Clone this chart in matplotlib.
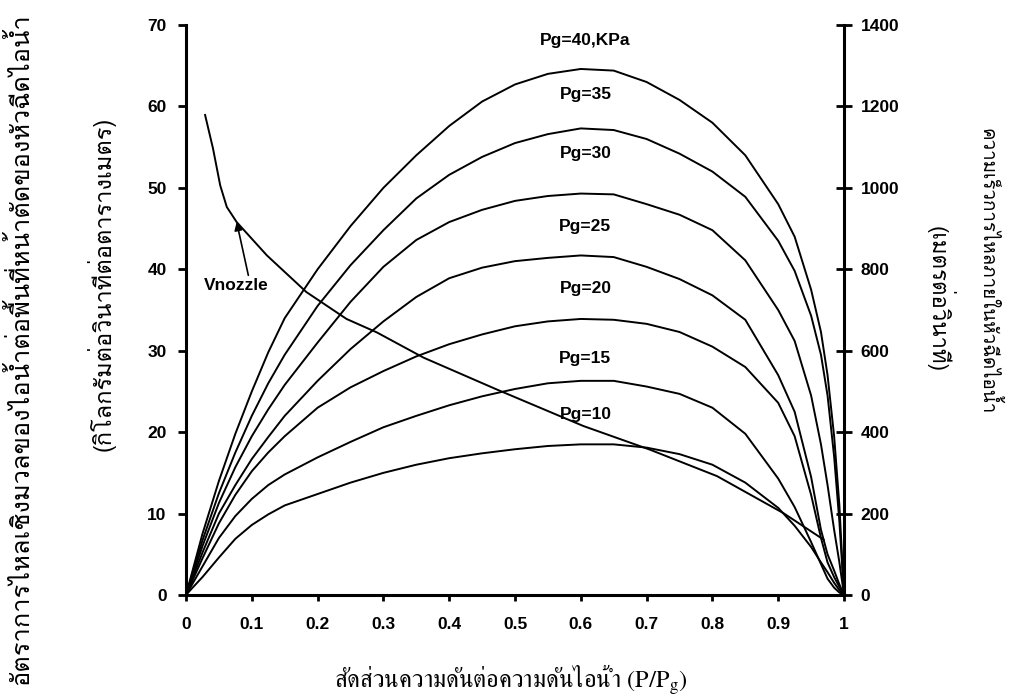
import matplotlib
matplotlib.use("Agg")
import matplotlib.pyplot as plt

plt.rcParams['font.family'] = ['Liberation Sans', 'DejaVu Sans']
plt.rcParams['mathtext.default'] = 'regular'

# pressure ratio P/Pg where the curves were read
x_ratio = [0, 0.01, 0.025, 0.05, 0.075, 0.1, 0.125, 0.15, 0.2, 0.25, 0.3, 0.35, 0.4, 0.45, 0.5,
           0.55, 0.6, 0.65, 0.7, 0.75, 0.8, 0.85, 0.9, 0.925, 0.95, 0.965, 0.975, 0.985, 0.993, 1.0]

# mass flux (kg/s/m2) for each steam pressure Pg (kPa)
g_pg10 = [0, 0.9, 2.2, 4.6, 6.9, 8.6, 9.9, 11.0, 12.4, 13.8, 15.0, 16.0, 16.8, 17.4, 17.9,
          18.3, 18.5, 18.5, 18.1, 17.3, 16.0, 13.8, 10.7, 8.5, 5.9, 4.0, 2.8, 1.5, 0.6, 0]
g_pg15 = [0, 1.4, 3.5, 7.0, 9.7, 11.8, 13.5, 14.8, 16.9, 18.8, 20.6, 22.0, 23.3, 24.4, 25.3,
          26.0, 26.3, 26.3, 25.6, 24.7, 23.0, 19.8, 14.3, 10.8, 6.5, 3.8, 2.0, 0.9, 0.3, 0]
g_pg20 = [0, 1.8, 4.5, 8.8, 12.3, 15.2, 17.5, 19.5, 23.0, 25.5, 27.5, 29.3, 30.8, 32.0, 33.0,
          33.6, 33.9, 33.8, 33.3, 32.3, 30.5, 28.0, 23.6, 19.5, 12.3, 7.0, 4.0, 2.2, 1.0, 0]
g_pg25 = [0, 2.1, 5.2, 10.0, 13.5, 16.7, 19.4, 22.0, 26.3, 30.2, 33.6, 36.6, 38.9, 40.2, 41.0,
          41.4, 41.7, 41.5, 40.3, 38.8, 36.8, 33.8, 27.0, 22.5, 14.5, 8.0, 5.0, 3.0, 1.3, 0]
g_pg30 = [0, 2.4, 6.0, 11.3, 15.7, 19.5, 22.8, 25.8, 31.0, 36.0, 40.3, 43.6, 45.8, 47.3, 48.4,
          49.0, 49.3, 49.2, 48.0, 46.7, 44.8, 41.1, 35.0, 31.2, 24.5, 18.5, 13.5, 8.0, 4.0, 0]
g_pg35 = [0, 2.7, 6.7, 12.5, 17.5, 22.0, 26.0, 29.5, 35.5, 40.5, 44.8, 48.7, 51.6, 53.8, 55.5,
          56.6, 57.3, 57.1, 56.0, 54.2, 52.0, 48.9, 43.5, 39.8, 34.3, 29.5, 24.5, 17.0, 9.0, 0]
g_pg40 = [0, 3.0, 7.5, 14.0, 19.8, 25.0, 29.8, 34.0, 40.0, 45.3, 50.0, 54.0, 57.6, 60.6, 62.7,
          64.0, 64.6, 64.4, 63.0, 60.8, 58.0, 54.0, 48.0, 44.0, 37.5, 32.3, 27.0, 19.5, 11.0, 0]
g_curves = [g_pg10, g_pg15, g_pg20, g_pg25, g_pg30, g_pg35, g_pg40]
pg_labels = ['Pg=10', 'Pg=15', 'Pg=20', 'Pg=25', 'Pg=30', 'Pg=35', 'Pg=40,KPa']
label_y = [22.2, 29.1, 37.7, 45.2, 54.2, 61.5, 68.1]

# nozzle velocity (m/s), right axis
vn_x = [0.029, 0.041, 0.052, 0.062, 0.077, 0.123, 0.183, 0.244, 0.29, 0.361, 0.472, 0.604, 0.705, 0.807, 0.908, 0.969]
vn_v = [1179, 1097, 1006, 953, 916, 834, 744, 678, 645, 583, 505, 415, 357, 292, 201, 136]

thai_font = ['Loma', 'DejaVu Sans']
serif_font = ['FreeSerif', 'DejaVu Serif']

fig = plt.figure(figsize=(10.27, 6.99), dpi=100)
ax = fig.add_axes([186 / 1027, 104 / 699, 658 / 1027, 570 / 699])
ax2 = ax.twinx()

for g in g_curves:
    ax.plot(x_ratio, g, color='black', lw=1.4)
ax2.plot(vn_x, vn_v, color='black', lw=1.4)

for lab, ly in zip(pg_labels, label_y):
    ax.text(0.607, ly, lab, ha='center', va='center', fontsize=12.5, fontweight='bold')

ax.annotate('Vnozzle', xy=(vn_x[4], vn_v[4] / 20), xytext=(0.076, 38),
            ha='center', va='center', fontsize=12.5, fontweight='bold',
            arrowprops=dict(arrowstyle='-|>', color='black', lw=1.2, shrinkA=0, shrinkB=0,
                            mutation_scale=12, relpos=(0.7, 1.0)))

ax.set_xlim(0, 1)
ax.set_ylim(0, 70)
ax2.set_ylim(0, 1400)
ax.set_xticks([0, 0.1, 0.2, 0.3, 0.4, 0.5, 0.6, 0.7, 0.8, 0.9, 1.0])
ax.set_xticklabels(['0', '0.1', '0.2', '0.3', '0.4', '0.5', '0.6', '0.7', '0.8', '0.9', '1'])
ax.set_yticks(range(0, 71, 10))
ax2.set_yticks(range(0, 1401, 200))

for s in ['top', 'right']:
    ax.spines[s].set_visible(False)
for s in ['top', 'left', 'bottom']:
    ax2.spines[s].set_visible(False)
ax.spines['left'].set_linewidth(2.2)
ax.spines['bottom'].set_linewidth(2.2)
ax2.spines['right'].set_linewidth(2.2)

ax.tick_params(axis='y', direction='out', length=6, width=2, labelsize=12.5, pad=8)
ax.tick_params(axis='x', direction='out', length=4, width=2, labelsize=12.5, pad=12)
ax2.tick_params(axis='y', direction='inout', length=12, width=2, labelsize=12.5, pad=6)
for lab in ax.get_xticklabels() + ax.get_yticklabels() + ax2.get_yticklabels():
    lab.set_fontweight('bold')

fig.text(511 / 1027, 1 - 680 / 699, 'สัดส่วนความดันต่อความดันไอน้ำ (P/P$_{g}$)',
         family=serif_font, fontsize=17.5, ha='center', va='center')
fig.text(20 / 1027, 0.5, 'อัตราการไหลเชิงมวลของไอน้ำต่อพื้นที่หน้าตัดของหัวฉีดไอน้ำ',
         family=thai_font, fontsize=18.3, rotation=90, ha='center', va='center')
fig.text(101 / 1027, 1 - 284 / 699, '(กิโลกรัมต่อวินาทีต่อตารางเมตร)',
         family=thai_font, fontsize=17, rotation=90, ha='center', va='center')
fig.text(988 / 1027, 1 - 271 / 699, 'ความเร็วการไหลภายในหัวฉีดไอน้ำ',
         family=thai_font, fontsize=13.5, rotation=270, ha='center', va='center')
fig.text(940 / 1027, 1 - 299 / 699, '(เมตรต่อวินาที)',
         family=thai_font, fontsize=16, rotation=270, ha='center', va='center')

fig.savefig('out.png', dpi=100)
